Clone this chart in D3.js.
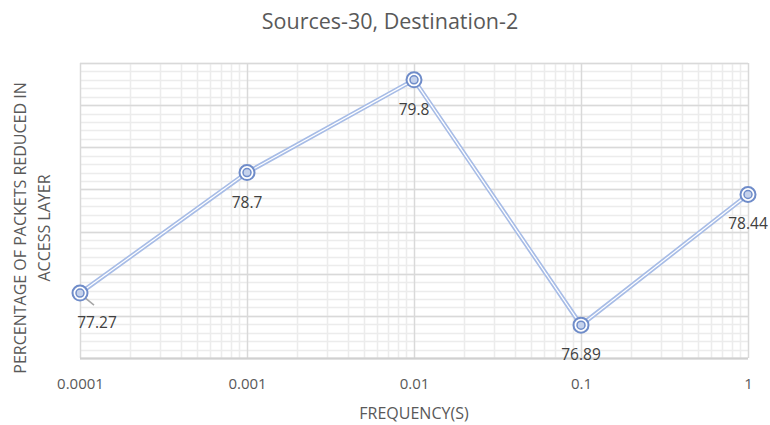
<!DOCTYPE html>
<html>
<head>
<meta charset="utf-8">
<script src="https://cdn.jsdelivr.net/npm/d3@7"></script>
<style>
  html, body { margin: 0; padding: 0; background: #fff; }
  svg { display: block; font-family: "Open Sans", "Liberation Sans", sans-serif; }
</style>
</head>
<body>
<svg id="chart" width="770" height="425"></svg>
<script>
const frequencies = [0.0001, 0.001, 0.01, 0.1, 1];
const values = [77.27, 78.7, 79.8, 76.89, 78.44];
const valueLabels = ["77.27", "78.7", "79.8", "76.89", "78.44"];
const xTickValues = [0.0001, 0.001, 0.01, 0.1, 1];
const xTickLabels = ["0.0001", "0.001", "0.01", "0.1", "1"];
const yMin = 76.5, yMax = 80, yMajorStep = 0.5, yMinorStep = 0.1;
const title = "Sources-30, Destination-2";
const xTitle = "FREQUENCY(S)";
const yTitleLines = ["PERCENTAGE OF PACKETS REDUCED IN", "ACCESS LAYER"];

const svg = d3.select("#chart");
const L = 80, R = 748, T = 63, B = 358;
const x = d3.scaleLog().domain([0.0001, 1]).range([L, R]);
const y = d3.scaleLinear().domain([yMin, yMax]).range([B, T]);

const minorY = d3.range(Math.round((yMax - yMin) / yMinorStep) + 1).map(i => yMin + i * yMinorStep);
const majorY = d3.range(Math.round((yMax - yMin) / yMajorStep) + 1).map(i => yMin + i * yMajorStep);
const minorX = [];
for (let e = -4; e < 0; e++) for (let k = 2; k <= 9; k++) minorX.push(k * Math.pow(10, e));

const g = svg.append("g");
g.selectAll(".minY").data(minorY).enter().append("line")
  .attr("x1", L).attr("x2", R).attr("y1", d => Math.round(y(d)) + 0.5).attr("y2", d => Math.round(y(d)) + 0.5)
  .attr("stroke", "#ececec").attr("stroke-width", 1.5);
g.selectAll(".minX").data(minorX).enter().append("line")
  .attr("y1", T).attr("y2", B).attr("x1", d => Math.round(x(d)) + 0.5).attr("x2", d => Math.round(x(d)) + 0.5)
  .attr("stroke", "#ececec").attr("stroke-width", 1.5);
g.selectAll(".majY").data(majorY).enter().append("line")
  .attr("x1", L).attr("x2", R).attr("y1", d => Math.round(y(d)) + 0.5).attr("y2", d => Math.round(y(d)) + 0.5)
  .attr("stroke", "#d9d9d9").attr("stroke-width", 1.5);
g.selectAll(".majX").data(xTickValues).enter().append("line")
  .attr("y1", T).attr("y2", B).attr("x1", d => Math.round(x(d)) + 0.5).attr("x2", d => Math.round(x(d)) + 0.5)
  .attr("stroke", "#d9d9d9").attr("stroke-width", 1.5);
g.append("line").attr("x1", L).attr("x2", R).attr("y1", B + 0.5).attr("y2", B + 0.5)
  .attr("stroke", "#d0d0d0").attr("stroke-width", 2);

const xAxis = d3.axisBottom(x).tickValues(xTickValues)
  .tickFormat((d, i) => xTickLabels[i]).tickSize(0).tickPadding(0);
const ax = svg.append("g").attr("transform", `translate(0,${B})`).call(xAxis);
ax.select(".domain").remove();
ax.selectAll("text").attr("font-size", 15).attr("fill", "#595959")
  .attr("font-family", "'Open Sans', sans-serif").attr("dy", null).attr("y", 31);

svg.append("text").attr("x", 390).attr("y", 29).attr("text-anchor", "middle")
  .attr("font-size", 21.5).attr("fill", "#595959").text(title);
svg.append("text").attr("x", 414).attr("y", 419).attr("text-anchor", "middle")
  .attr("font-size", 16).attr("fill", "#595959").text(xTitle);
const yt = svg.append("text").attr("transform", "translate(0,228) rotate(-90)")
  .attr("text-anchor", "middle").attr("font-size", 16).attr("fill", "#595959");
yTitleLines.forEach((t, i) => yt.append("tspan").attr("x", 0).attr("y", 26 + i * 24).text(t));

const pts = frequencies.map((f, i) => ({ f, v: values[i], label: valueLabels[i] }));
const line = d3.line().x(d => x(d.f)).y(d => y(d.v));
svg.append("path").datum(pts).attr("d", line).attr("fill", "none")
  .attr("stroke", "#a7bce6").attr("stroke-width", 4.5).attr("stroke-linejoin", "miter");
svg.append("path").datum(pts).attr("d", line).attr("fill", "none")
  .attr("stroke", "#ffffff").attr("stroke-width", 1.2).attr("stroke-linejoin", "miter");

svg.append("line").attr("x1", x(pts[0].f) + 3).attr("y1", y(pts[0].v) + 3)
  .attr("x2", x(pts[0].f) + 14).attr("y2", y(pts[0].v) + 12)
  .attr("stroke", "#a6a6a6").attr("stroke-width", 1.5);

const mk = svg.selectAll(".mk").data(pts).enter().append("g")
  .attr("transform", d => `translate(${x(d.f)},${y(d.v)})`);
mk.append("circle").attr("r", 7.5).attr("fill", "#ffffff").attr("stroke", "#6f8cc9").attr("stroke-width", 2);
mk.append("circle").attr("r", 4).attr("fill", "#c5d2ec").attr("stroke", "#6f8cc9").attr("stroke-width", 1.5);

const labelOffsets = [[17, 35], [0, 35], [0, 35], [0, 35], [0, 35]];
svg.selectAll(".lbl").data(pts).enter().append("text")
  .attr("x", (d, i) => x(d.f) + labelOffsets[i][0])
  .attr("y", (d, i) => y(d.v) + labelOffsets[i][1])
  .attr("text-anchor", "middle").attr("font-size", 15.5).attr("fill", "#404040")
  .text(d => d.label);
</script>
</body>
</html>
